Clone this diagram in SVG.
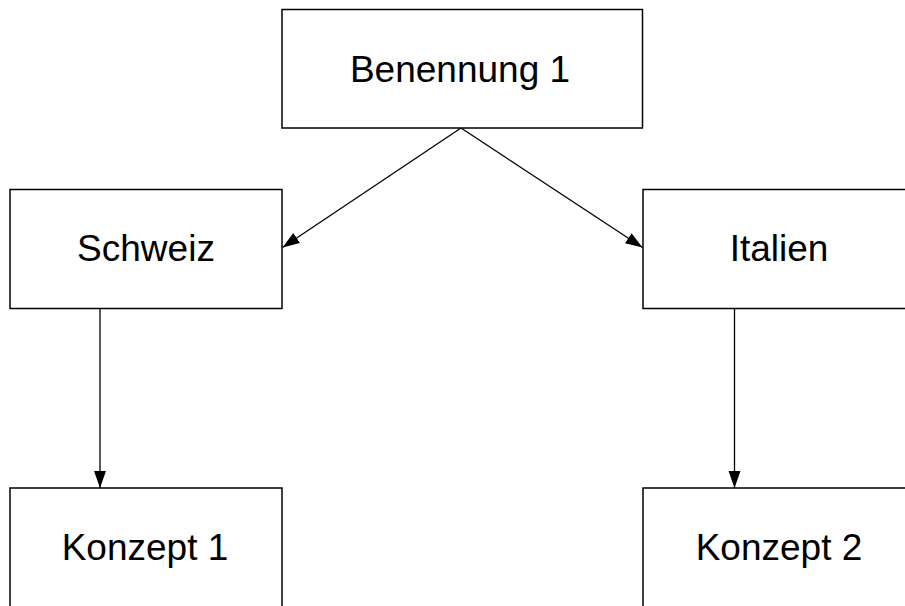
<svg xmlns="http://www.w3.org/2000/svg" width="905" height="606" viewBox="0 0 905 606">
  <style>
    .box { fill: #ffffff; stroke: #000000; stroke-width: 1.5; }
    .label { font-family: "Liberation Sans", Arial, sans-serif; font-size: 37px; fill: #000000; text-anchor: middle; }
    .edge { stroke: #000000; stroke-width: 1.3; fill: none; marker-end: url(#arrow); }
  </style>
  <defs>
    <marker id="arrow" markerUnits="userSpaceOnUse" markerWidth="18" markerHeight="14" refX="17" refY="7" orient="auto">
      <path d="M0,1 L17,7 L0,13 Z" fill="#000000"/>
    </marker>
  </defs>
  <rect x="0" y="0" width="905" height="606" fill="#ffffff"/>

  <g id="connectors">
    <line class="edge" x1="461" y1="128" x2="282.5" y2="247.5"/>
    <line class="edge" x1="461" y1="128" x2="642.5" y2="247.5"/>
    <line class="edge" x1="100" y1="308.5" x2="100" y2="488"/>
    <line class="edge" x1="734.5" y1="308.5" x2="734.5" y2="488"/>
  </g>

  <g id="benennung1">
    <rect class="box" x="282" y="9.5" width="360.5" height="118.5"/>
    <text class="label" x="460" y="82">Benennung 1</text>
  </g>

  <g id="schweiz">
    <rect class="box" x="10" y="189.5" width="272" height="119"/>
    <text class="label" x="146" y="261">Schweiz</text>
  </g>

  <g id="italien">
    <rect class="box" x="643" y="189.5" width="272" height="119"/>
    <text class="label" x="779" y="261">Italien</text>
  </g>

  <g id="konzept1">
    <rect class="box" x="10" y="488" width="272" height="130"/>
    <text class="label" x="145" y="560">Konzept 1</text>
  </g>

  <g id="konzept2">
    <rect class="box" x="643" y="488" width="272" height="130"/>
    <text class="label" x="779" y="560">Konzept 2</text>
  </g>
</svg>
